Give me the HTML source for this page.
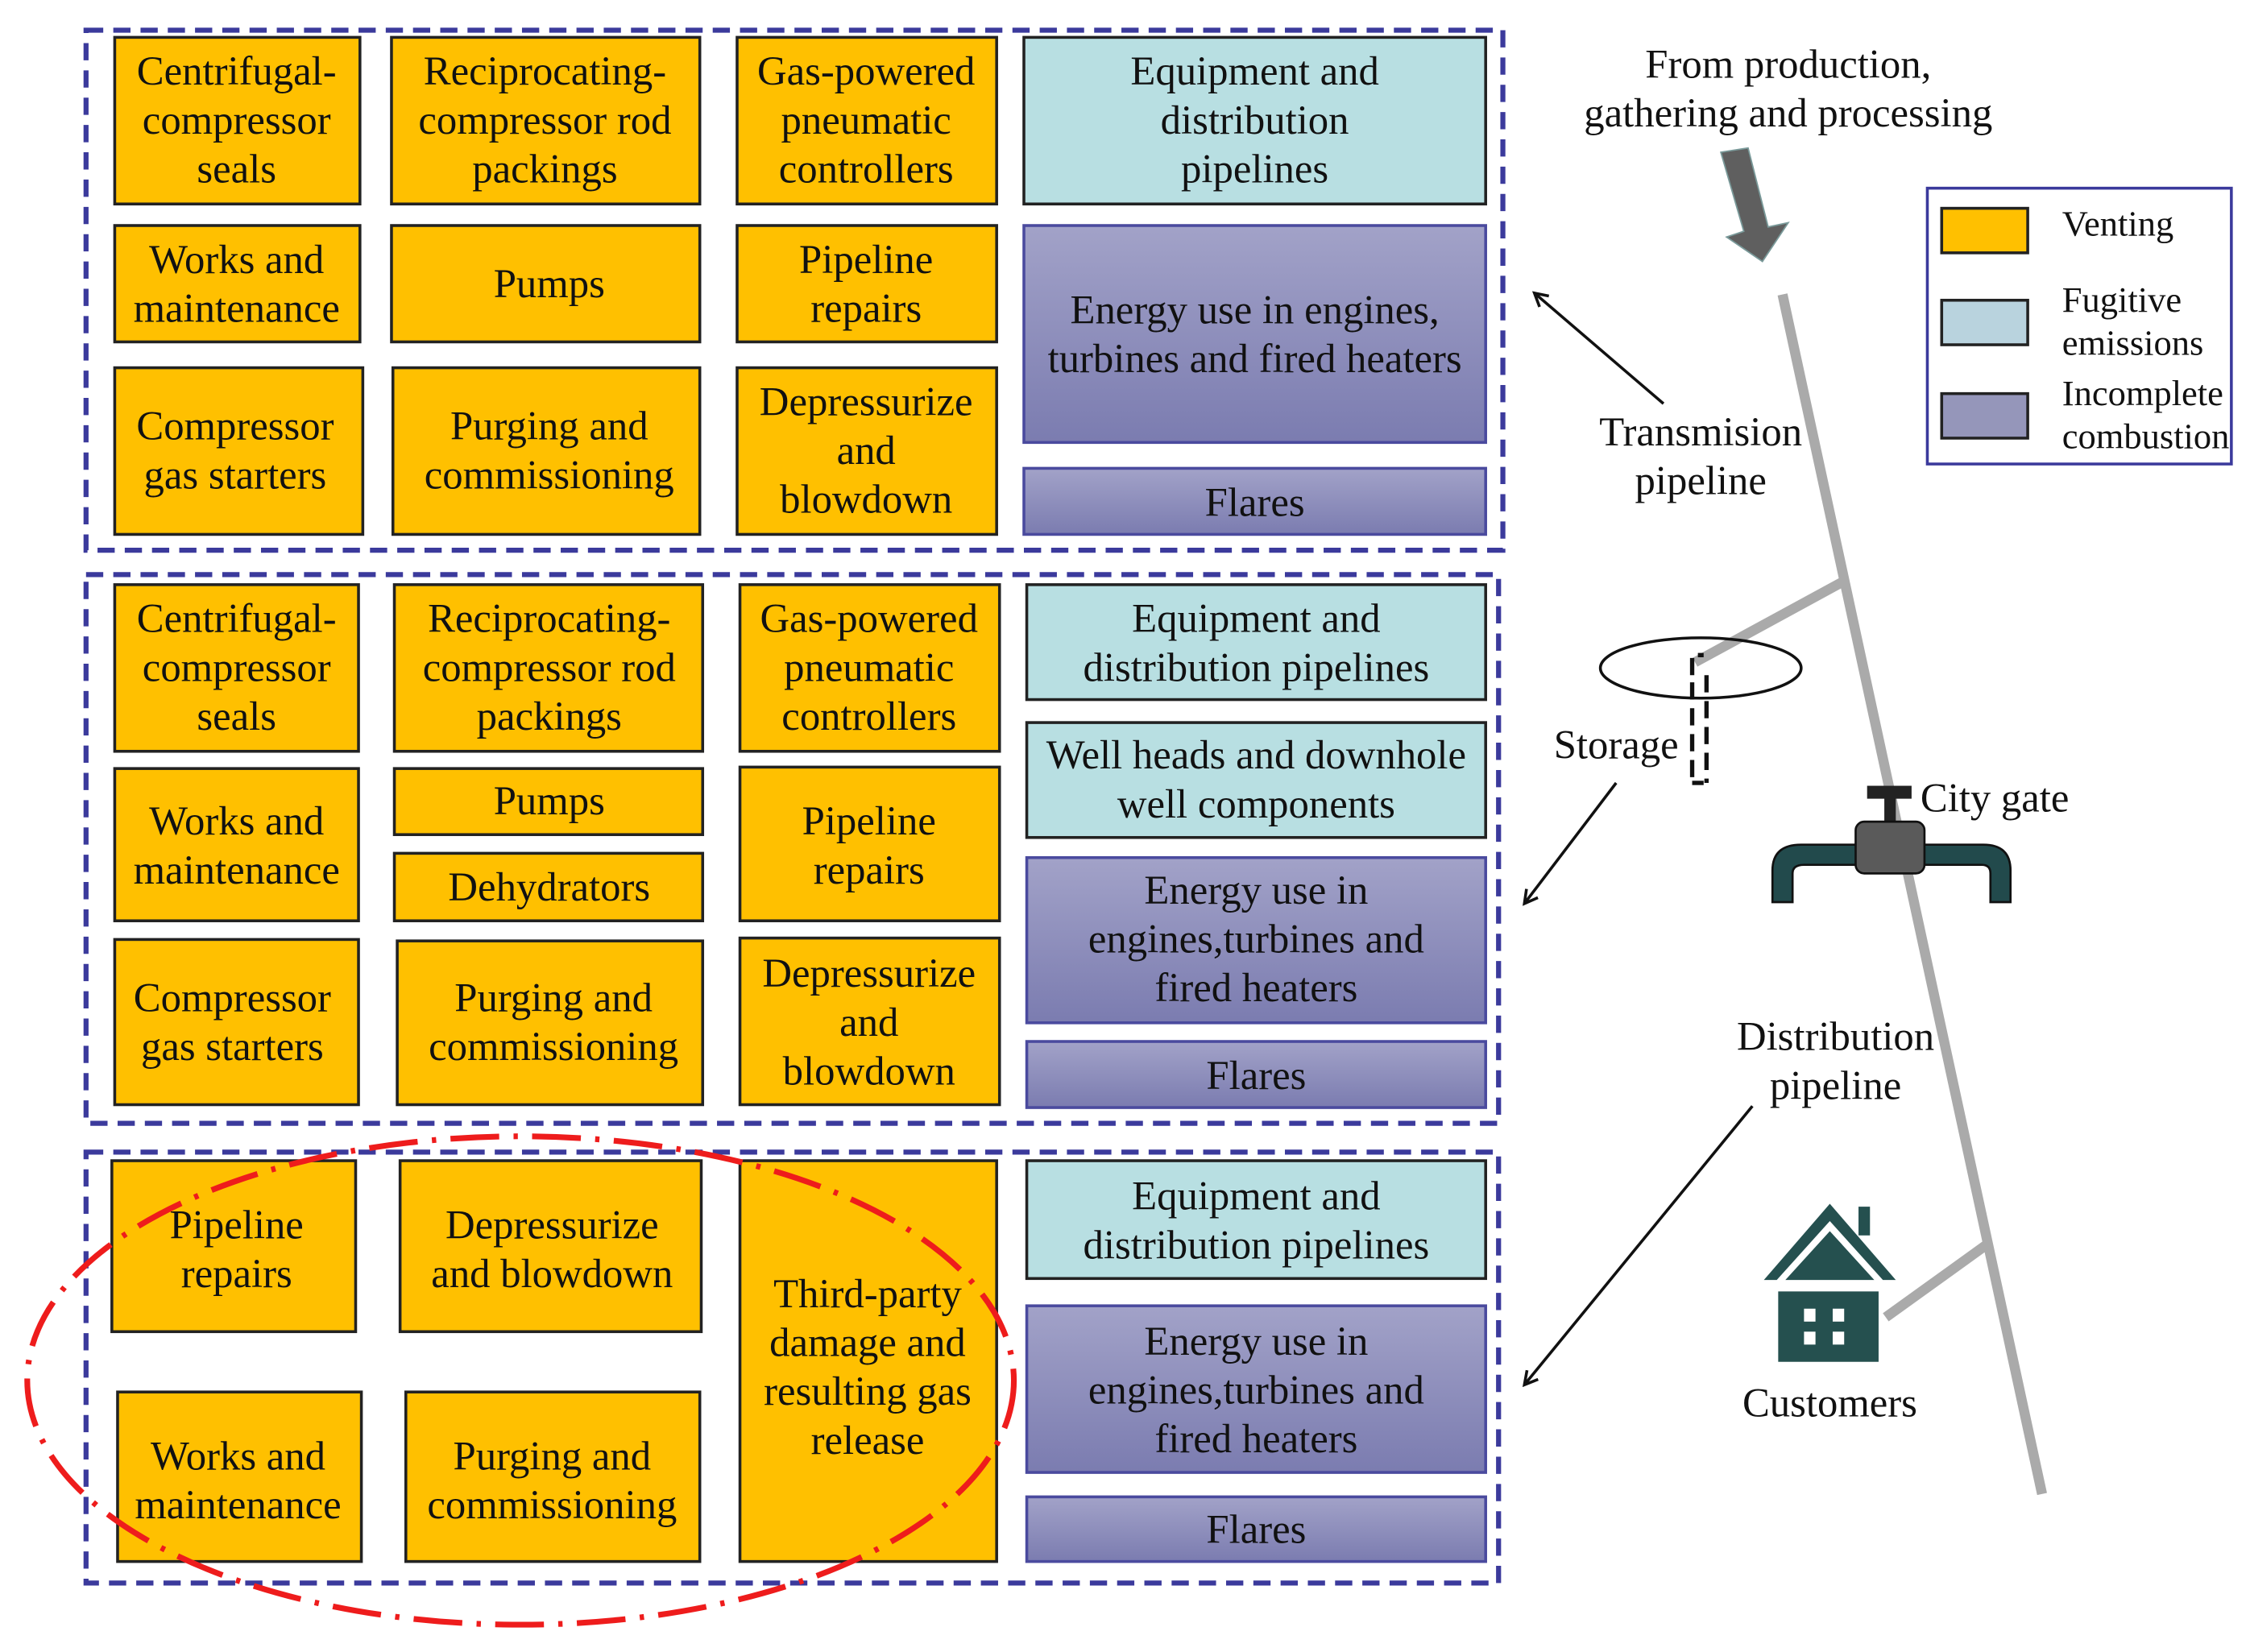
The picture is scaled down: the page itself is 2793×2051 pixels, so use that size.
<!DOCTYPE html>
<html><head><meta charset="utf-8"><style>
html,body{margin:0;padding:0;background:#fff;}
svg{display:block;}
text{font-family:"Liberation Serif","Times New Roman",serif;font-size:28.5px;fill:#111;text-anchor:middle;}
</style></head><body>
<svg width="2793" height="2051" viewBox="0 0 1569 1150" preserveAspectRatio="none" font-family="Liberation Serif, serif" xmlns="http://www.w3.org/2000/svg">
<defs>
<linearGradient id="pg" x1="0" y1="0" x2="0" y2="1"><stop offset="0" stop-color="#a2a2c8"/><stop offset="1" stop-color="#7b7cb0"/></linearGradient>
<marker id="ah" markerWidth="12" markerHeight="12" refX="10" refY="6" orient="auto" markerUnits="userSpaceOnUse"><path d="M1,1 L10,6 L1,11" fill="none" stroke="#111" stroke-width="2"/></marker>
</defs>
<g fill="none" stroke="#3b3a9c" stroke-width="3.5" stroke-dasharray="12,7">
<rect x="60" y="21" width="988" height="362"/>
<rect x="60" y="400" width="985" height="382"/>
<rect x="60" y="802" width="985" height="300"/>
</g>
<g stroke="#222" stroke-width="2" fill="#ffc000">
<rect x="80" y="26" width="171" height="116"/><rect x="273" y="26" width="215" height="116"/><rect x="514" y="26" width="181" height="116"/>
<rect x="80" y="157" width="171" height="81"/><rect x="273" y="157" width="215" height="81"/><rect x="514" y="157" width="181" height="81"/>
<rect x="80" y="256" width="173" height="116"/><rect x="274" y="256" width="214" height="116"/><rect x="514" y="256" width="181" height="116"/>
<rect x="80" y="407" width="170" height="116"/><rect x="275" y="407" width="215" height="116"/><rect x="516" y="407" width="181" height="116"/>
<rect x="80" y="535" width="170" height="106"/><rect x="275" y="535" width="215" height="46"/><rect x="275" y="594" width="215" height="47"/><rect x="516" y="534" width="181" height="107"/>
<rect x="80" y="654" width="170" height="115"/><rect x="277" y="655" width="213" height="114"/><rect x="516" y="653" width="181" height="116"/>
<rect x="78" y="808" width="170" height="119"/><rect x="279" y="808" width="210" height="119"/><rect x="516" y="808" width="179" height="279"/>
<rect x="82" y="969" width="170" height="118"/><rect x="283" y="969" width="205" height="118"/>
</g>
<g stroke="#222" stroke-width="2" fill="#b8dfe2">
<rect x="714" y="26" width="322" height="116"/>
<rect x="716" y="407" width="320" height="80"/><rect x="716" y="503" width="320" height="80"/>
<rect x="716" y="808" width="320" height="82"/>
</g>
<g stroke="#4a4a9e" stroke-width="2" fill="url(#pg)">
<rect x="714" y="157" width="322" height="151"/><rect x="714" y="326" width="322" height="46"/>
<rect x="716" y="597" width="320" height="115"/><rect x="716" y="725" width="320" height="46"/>
<rect x="716" y="909" width="320" height="116"/><rect x="716" y="1042" width="320" height="45"/>
</g>
<text x="165" y="59">Centrifugal-</text><text x="165" y="93">compressor</text><text x="165" y="127">seals</text>
<text x="380" y="59">Reciprocating-</text><text x="380" y="93">compressor rod</text><text x="380" y="127">packings</text>
<text x="604" y="59">Gas-powered</text><text x="604" y="93">pneumatic</text><text x="604" y="127">controllers</text>
<text x="875" y="59">Equipment and</text><text x="875" y="93">distribution</text><text x="875" y="127">pipelines</text>
<text x="165" y="190">Works and</text><text x="165" y="224">maintenance</text>
<text x="383" y="207">Pumps</text>
<text x="604" y="190">Pipeline</text><text x="604" y="224">repairs</text>
<text x="875" y="225">Energy use in engines,</text><text x="875" y="259">turbines and fired heaters</text>
<text x="164" y="306">Compressor</text><text x="164" y="340">gas starters</text>
<text x="383" y="306">Purging and</text><text x="383" y="340">commissioning</text>
<text x="604" y="289">Depressurize</text><text x="604" y="323">and</text><text x="604" y="357">blowdown</text>
<text x="875" y="359">Flares</text>
<text x="165" y="440">Centrifugal-</text><text x="165" y="474">compressor</text><text x="165" y="508">seals</text>
<text x="383" y="440">Reciprocating-</text><text x="383" y="474">compressor rod</text><text x="383" y="508">packings</text>
<text x="606" y="440">Gas-powered</text><text x="606" y="474">pneumatic</text><text x="606" y="508">controllers</text>
<text x="876" y="440">Equipment and</text><text x="876" y="474">distribution pipelines</text>
<text x="876" y="535">Well heads and downhole</text><text x="876" y="569">well components</text>
<text x="165" y="581">Works and</text><text x="165" y="615">maintenance</text>
<text x="383" y="567">Pumps</text><text x="383" y="627">Dehydrators</text>
<text x="606" y="581">Pipeline</text><text x="606" y="615">repairs</text>
<text x="876" y="629">Energy use in</text><text x="876" y="663">engines,turbines and</text><text x="876" y="697">fired heaters</text>
<text x="162" y="704">Compressor</text><text x="162" y="738">gas starters</text>
<text x="386" y="704">Purging and</text><text x="386" y="738">commissioning</text>
<text x="606" y="687">Depressurize</text><text x="606" y="721">and</text><text x="606" y="755">blowdown</text>
<text x="876" y="758">Flares</text>
<text x="165" y="862">Pipeline</text><text x="165" y="896">repairs</text>
<text x="385" y="862">Depressurize</text><text x="385" y="896">and blowdown</text>
<text x="605" y="910">Third-party</text><text x="605" y="944">damage and</text><text x="605" y="978">resulting gas</text><text x="605" y="1012">release</text>
<text x="876" y="842">Equipment and</text><text x="876" y="876">distribution pipelines</text>
<text x="876" y="943">Energy use in</text><text x="876" y="977">engines,turbines and</text><text x="876" y="1011">fired heaters</text>
<text x="166" y="1023">Works and</text><text x="166" y="1057">maintenance</text>
<text x="385" y="1023">Purging and</text><text x="385" y="1057">commissioning</text>
<text x="876" y="1074">Flares</text>
<ellipse cx="363" cy="961" rx="344" ry="170" fill="none" stroke="#ee1c1c" stroke-width="4" stroke-dasharray="34,10,3,10"/>
<text x="1247" y="54">From production,</text><text x="1247" y="88">gathering and processing</text>
<polygon points="1200,106 1219,103 1233,158 1247,155 1229,182 1204,165 1216,161" fill="#5f5f5f" stroke="#7a9a9a" stroke-width="1"/>
<g stroke="#aaaaaa" stroke-width="7" fill="none">
<line x1="1243" y1="205" x2="1424" y2="1040"/>
<line x1="1285" y1="405" x2="1182" y2="461"/>
<line x1="1386" y1="866" x2="1315" y2="917"/>
</g>
<ellipse cx="1186" cy="465" rx="70" ry="21" fill="none" stroke="#111" stroke-width="2"/>
<g stroke="#111" stroke-width="3" fill="none" stroke-dasharray="12,6">
<path d="M1180,470 L1180,456 L1188,456"/>
<line x1="1180" y1="475" x2="1180" y2="545"/>
<line x1="1190" y1="470" x2="1190" y2="545"/>
<line x1="1180" y1="545" x2="1188" y2="545" stroke-dasharray="none"/>
</g>
<text x="1127" y="528">Storage</text>
<text x="1186" y="310">Transmision</text><text x="1186" y="344">pipeline</text>
<text x="1280" y="731">Distribution</text><text x="1280" y="765">pipeline</text>
<text x="1276" y="986">Customers</text>
<text x="1391" y="565">City gate</text>
<g stroke="#111" stroke-width="2" fill="none" marker-end="url(#ah)">
<line x1="1160" y1="281" x2="1070" y2="204"/>
<line x1="1127" y1="545" x2="1063" y2="629"/>
<line x1="1222" y1="770" x2="1063" y2="964"/>
</g>
<path d="M1236,628 L1236,606 Q1236,588 1256,588 L1383,588 Q1402,588 1402,606 L1402,628 L1388,628 L1388,608 Q1388,602 1382,602 L1258,602 Q1250,602 1250,608 L1250,628 Z" fill="#224a4c" stroke="#111" stroke-width="1.5"/>
<rect x="1302" y="547" width="31" height="9" fill="#222"/>
<rect x="1314" y="554" width="8" height="20" fill="#222"/>
<rect x="1294" y="572" width="48" height="36" rx="6" fill="#5a5a5a" stroke="#111" stroke-width="1.5"/>
<polygon points="1230,891 1276,838 1322,891 1313,891 1276,850 1239,891" fill="#25504f"/>
<polygon points="1245,891 1276,857 1307,891" fill="#25504f"/>
<rect x="1296" y="840" width="8" height="20" fill="#25504f"/>
<rect x="1240" y="899" width="70" height="49" fill="#25504f"/>
<g fill="#fff"><rect x="1258" y="911" width="8" height="9"/><rect x="1278" y="911" width="8" height="9"/><rect x="1258" y="927" width="8" height="9"/><rect x="1278" y="927" width="8" height="9"/></g>
<rect x="1344" y="131" width="212" height="192" fill="#fff" stroke="#3b3a9c" stroke-width="2"/>
<rect x="1354" y="145" width="60" height="31" fill="#ffc000" stroke="#222" stroke-width="2"/>
<rect x="1354" y="209" width="60" height="31" fill="#b9d3de" stroke="#222" stroke-width="2"/>
<rect x="1354" y="274" width="60" height="31" fill="#9596ba" stroke="#222" stroke-width="2"/>
<text x="1438" y="164" style="text-anchor:start;font-size:25px">Venting</text>
<text x="1438" y="217" style="text-anchor:start;font-size:25px">Fugitive</text>
<text x="1438" y="247" style="text-anchor:start;font-size:25px">emissions</text>
<text x="1438" y="282" style="text-anchor:start;font-size:25px">Incomplete</text>
<text x="1438" y="312" style="text-anchor:start;font-size:25px">combustion</text>
</svg>
</body></html>
